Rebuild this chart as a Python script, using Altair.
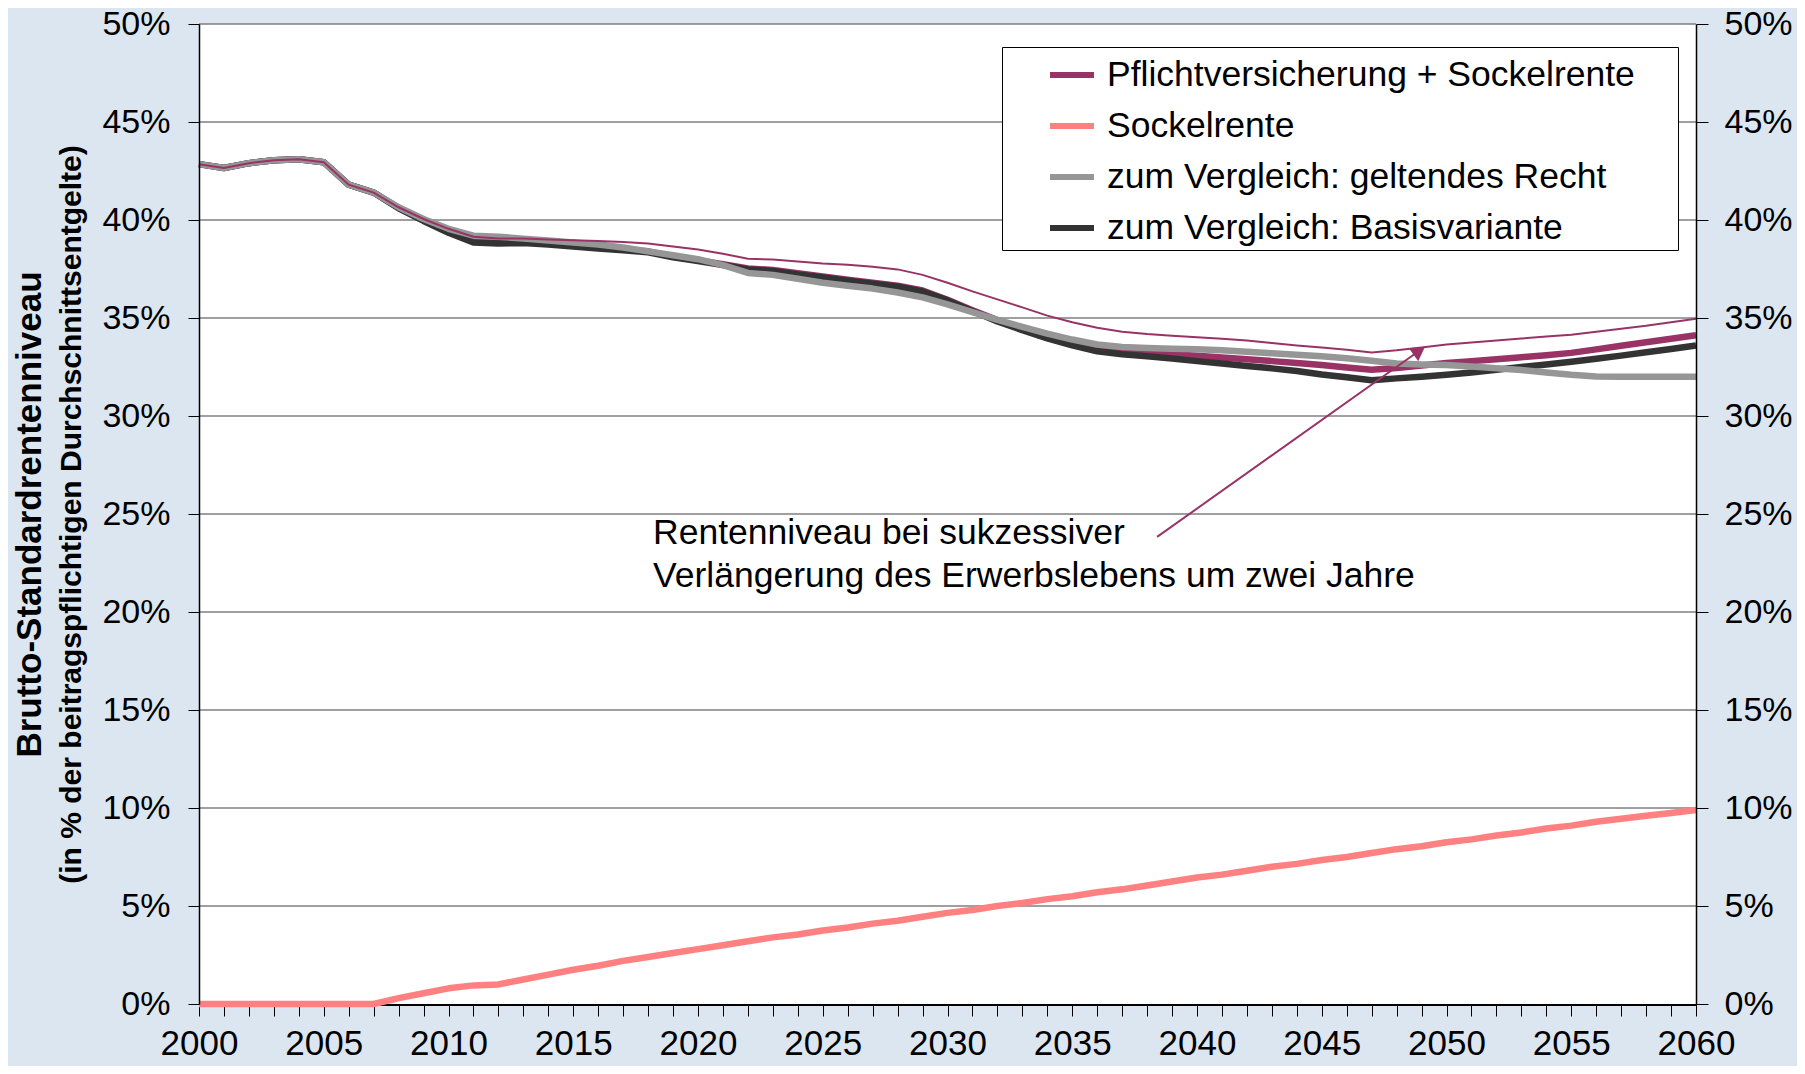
import altair as alt
import pandas as pd

# ---------------- data ----------------
years = list(range(2000, 2061))

pflicht = [42.85, 42.65, 42.9, 43.05, 43.1, 42.95, 41.8, 41.4, 40.62, 40.0,
           39.45, 39.0, 38.95, 38.9, 38.8, 38.7, 38.6, 38.5, 38.4, 38.15,
           37.95, 37.75, 37.53, 37.45, 37.28, 37.12, 36.95, 36.8, 36.65, 36.4,
           35.93, 35.4, 34.9, 34.45, 34.05, 33.7, 33.45, 33.3, 33.22, 33.15,
           33.08, 32.98, 32.9, 32.8, 32.7, 32.6, 32.48, 32.36, 32.45, 32.58,
           32.7, 32.8, 32.9, 33.0, 33.1, 33.22, 33.4, 33.58, 33.76, 33.94,
           34.12]

sockel = [0, 0, 0, 0, 0, 0, 0, 0, 0.3, 0.55,
          0.8, 0.95, 1.0, 1.25, 1.5, 1.75, 1.95, 2.2, 2.4, 2.6,
          2.8, 3.0, 3.2, 3.4, 3.55, 3.75, 3.9, 4.1, 4.25, 4.45,
          4.65, 4.8, 5.0, 5.15, 5.35, 5.5, 5.7, 5.85, 6.05, 6.25,
          6.45, 6.6, 6.8, 7.0, 7.15, 7.35, 7.5, 7.7, 7.9, 8.05,
          8.25, 8.4, 8.6, 8.75, 8.95, 9.1, 9.3, 9.45, 9.6, 9.75,
          9.9]

geltend = [42.85, 42.65, 42.9, 43.05, 43.1, 42.95, 41.8, 41.4, 40.65, 40.05,
           39.55, 39.2, 39.15, 39.05, 38.95, 38.85, 38.75, 38.6, 38.4, 38.2,
           38.0, 37.7, 37.3, 37.2, 37.0, 36.8, 36.65, 36.5, 36.3, 36.05,
           35.7, 35.3, 34.9, 34.55, 34.2, 33.9, 33.65, 33.52, 33.47, 33.43,
           33.4, 33.35, 33.28, 33.2, 33.12, 33.05, 32.95, 32.82, 32.68, 32.63,
           32.6, 32.52, 32.44, 32.35, 32.22, 32.1, 32.02, 32.0, 32.0, 32.0,
           32.0]

basis = [42.85, 42.65, 42.9, 43.05, 43.1, 42.95, 41.8, 41.4, 40.6, 39.95,
         39.35, 38.85, 38.8, 38.82, 38.75, 38.65, 38.55, 38.45, 38.35, 38.1,
         37.9, 37.7, 37.48, 37.4, 37.22, 37.07, 36.9, 36.75, 36.6, 36.35,
         35.9, 35.35, 34.82, 34.38, 33.96, 33.6, 33.3, 33.15, 33.05, 32.93,
         32.8, 32.68, 32.55, 32.43, 32.3, 32.12, 31.98, 31.82, 31.92, 32.0,
         32.1, 32.22, 32.36, 32.5, 32.63, 32.77, 32.92, 33.08, 33.25, 33.42,
         33.6]

verlaengerung = [42.85, 42.65, 42.9, 43.05, 43.1, 42.95, 41.8, 41.4, 40.65, 40.05,
                 39.55, 39.15, 39.05, 39.05, 39.0, 38.97, 38.93, 38.88, 38.8, 38.65,
                 38.5, 38.28, 38.02, 37.98, 37.88, 37.78, 37.72, 37.62, 37.48, 37.2,
                 36.8, 36.36, 35.95, 35.54, 35.12, 34.78, 34.5, 34.3, 34.18, 34.1,
                 34.02, 33.94, 33.85, 33.72, 33.6, 33.5, 33.38, 33.24, 33.35, 33.5,
                 33.65, 33.75, 33.85, 33.95, 34.05, 34.15, 34.3, 34.45, 34.6, 34.78,
                 34.96]

series_names = ["Pflichtversicherung + Sockelrente", "Sockelrente",
                "zum Vergleich: geltendes Recht", "zum Vergleich: Basisvariante"]
series_colors = ["#993366", "#FF8080", "#969696", "#333333"]

annot_lines = ["Rentenniveau bei sukzessiver",
               "Verlängerung des Erwerbslebens um zwei Jahre"]
annot_x = [2018.2, 2018.2]
annot_y = [24.03, 21.84]

arrow_start = (2038.4, 23.83)
arrow_head = (2048.91, 33.33)

y_ticks = [0, 5, 10, 15, 20, 25, 30, 35, 40, 45, 50]
x_domain = [2000, 2060]
y_domain = [0, 0.5]

# ---------------- tables ----------------
rows = []
for name, vals in zip(series_names, [pflicht, sockel, geltend, basis]):
    for yr, v in zip(years, vals):
        rows.append({"year": yr, "value": v / 100, "series": name})
df = pd.DataFrame(rows)
thin_df = pd.DataFrame({"year": years, "value": [v / 100 for v in verlaengerung]})
annot_df = pd.DataFrame({"x": annot_x, "y": [v / 100 for v in annot_y], "text": annot_lines})
arrow_df = pd.DataFrame({"x": [arrow_start[0]], "y": [arrow_start[1] / 100],
                         "x2": [arrow_head[0]], "y2": [arrow_head[1] / 100]})
head_df = pd.DataFrame({"x": [arrow_head[0]], "y": [arrow_head[1] / 100]})
grid_df = pd.DataFrame({"v": [t / 100 for t in y_ticks if t > 0]})
bg_df = pd.DataFrame({"bx": [x_domain[0]], "bx2": [x_domain[1]],
                      "by": [y_domain[0]], "by2": [y_domain[1]]})

FONT = "Liberation Sans"

x_scale = alt.Scale(domain=x_domain, nice=False, zero=False)
y_scale = alt.Scale(domain=y_domain, nice=False, zero=True)

x_axis = alt.Axis(values=years, format="d",
                  labelExpr="datum.value % 5 === 0 ? datum.label : ''",
                  labelOverlap=False, labelFlush=False, grid=False,
                  tickSize=12, tickColor="black", tickWidth=1,
                  domainColor="black", domainWidth=3,
                  labelFontSize=35, labelFont=FONT, labelColor="black",
                  labelPadding=10, title=None)

left_axis = alt.Axis(values=[v / 100 for v in y_ticks], format=".0%",
                     grid=False, zindex=1,
                     tickSize=11, tickColor="black", tickWidth=1,
                     domainColor="black", domainWidth=1.5,
                     labelFontSize=34, labelFont=FONT, labelColor="black",
                     labelPadding=18,
                     title="Brutto-Standardrentenniveau",
                     titleFontSize=35, titleFont=FONT, titleFontWeight="bold",
                     titleColor="black", titleX=-170, titleY=490, titleAngle=270,
                     titleAlign="center", titleBaseline="middle")

right_axis = alt.Axis(values=[v / 100 for v in y_ticks], format=".0%", orient="right",
                      grid=False, zindex=1, tickSize=12, tickColor="black", tickWidth=1,
                      domainColor="black", domainWidth=1.5,
                      labelFontSize=34, labelFont=FONT, labelColor="black",
                      labelPadding=16, title=None)

sub_axis = alt.Axis(orient="left", grid=False, domain=False, ticks=False, labels=False,
                    title="(in % der beitragspflichtigen Durchschnittsentgelte)",
                    titleFontSize=30, titleFont=FONT, titleFontWeight="bold",
                    titleColor="black", titleX=-128, titleY=490, titleAngle=270,
                    titleAlign="center", titleBaseline="middle")

legend = alt.Legend(orient="none", legendX=803, legendY=23,
                    title="\u2800", titleOrient="right", titlePadding=34,
                    titleFontSize=8, titleColor="white",
                    fillColor="white", strokeColor="black",
                    padding=3, cornerRadius=0,
                    symbolType="stroke", symbolStrokeWidth=6, symbolSize=1936,
                    symbolOffset=42, labelOffset=10, rowPadding=7,
                    labelFontSize=35.5, labelFont=FONT, labelColor="black",
                    labelLimit=1000)

color = alt.Color("series:N", scale=alt.Scale(domain=series_names, range=series_colors),
                  legend=legend)

# plot-area background (white) spanning the scale domain
l_bg = alt.Chart(bg_df).mark_rect(fill="#FFFFFF", fillOpacity=1, opacity=1,
                                  strokeWidth=0).encode(
    x=alt.X("bx:Q", scale=x_scale, axis=x_axis), x2="bx2:Q",
    y=alt.Y("by:Q", scale=y_scale, axis=None), y2="by2:Q",
)

# horizontal gridlines
l_grid = alt.Chart(grid_df).mark_rule(color="#7f7f7f", strokeWidth=1.5).encode(
    y=alt.Y("v:Q", scale=y_scale, axis=None),
)

base = alt.Chart(df)


def series_layer(name, axis):
    return base.transform_filter(alt.datum.series == name).mark_line(
        strokeWidth=6.5, strokeJoin="round").encode(
        x=alt.X("year:Q", scale=x_scale, axis=x_axis),
        y=alt.Y("value:Q", scale=y_scale, axis=axis),
        color=color,
    )


l_pflicht = series_layer(series_names[0], left_axis)
l_sockel = series_layer(series_names[1], None)
l_basis = series_layer(series_names[3], None)
l_geltend = series_layer(series_names[2], None)

l_thin = alt.Chart(thin_df).mark_line(strokeWidth=2, color="#993366").encode(
    x=alt.X("year:Q", scale=x_scale, axis=x_axis),
    y=alt.Y("value:Q", scale=y_scale, axis=right_axis),
)

l_arrow = alt.Chart(arrow_df).mark_rule(strokeWidth=2, color="#993366").encode(
    x=alt.X("x:Q", scale=x_scale, axis=x_axis),
    y=alt.Y("y:Q", scale=y_scale, axis=sub_axis),
    x2="x2:Q", y2="y2:Q",
)

l_head = alt.Chart(head_df).mark_point(shape="triangle-up", filled=True, size=260,
                                       angle=55, color="#993366", opacity=1).encode(
    x=alt.X("x:Q", scale=x_scale, axis=x_axis),
    y=alt.Y("y:Q", scale=y_scale, axis=None),
)

l_text = alt.Chart(annot_df).mark_text(align="left", baseline="middle", fontSize=35.5,
                                       font=FONT, color="black").encode(
    x=alt.X("x:Q", scale=x_scale, axis=x_axis),
    y=alt.Y("y:Q", scale=y_scale, axis=None),
    text="text:N",
)

chart = alt.layer(
    l_bg, l_grid, l_pflicht, l_sockel, l_basis, l_geltend, l_thin, l_arrow, l_head, l_text
).resolve_axis(y="independent").properties(
    width=1497, height=980,
    autosize=alt.AutoSizeParams(type="none"),
    padding={"left": 191, "top": 16, "right": 101, "bottom": 62},
).configure(font=FONT, background="#DCE6F1").configure_view(stroke="transparent", fill="#FFFFFF")

chart.save("out.html", embed_options={"renderer": "svg", "actions": False})
